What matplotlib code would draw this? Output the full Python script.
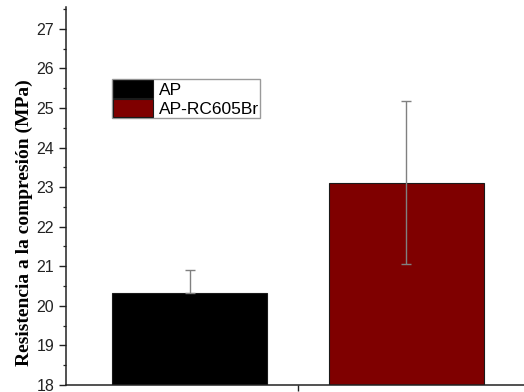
import matplotlib
matplotlib.use("Agg")
import matplotlib.pyplot as plt
from matplotlib.ticker import MultipleLocator, NullFormatter

# Compressive strength data
labels = ["AP", "AP-RC605Br"]
strength = [20.33, 23.11]
err_low = [0.0, 2.05]
err_high = [0.57, 2.07]
colors = ["#000000", "#7f0000"]
yticks = [18, 19, 20, 21, 22, 23, 24, 25, 26, 27]

fig = plt.figure(figsize=(5.24, 3.92), dpi=100)
ax = fig.add_axes([66 / 524, 7 / 392, (530 - 66) / 524, (385 - 7) / 392])

positions = list(range(len(labels)))
for pos, val, lo, hi, col, lab in zip(positions, strength, err_low, err_high, colors, labels):
    ax.bar(pos, val - 18, bottom=18, width=0.716, color=col, edgecolor="#1a1a1a",
           linewidth=0.8, label=lab, zorder=2)
    ax.errorbar(pos, val, yerr=[[lo], [hi]], fmt="none", ecolor="#808080",
                elinewidth=1.0, capsize=3.5, capthick=1.0, zorder=3)

ax.set_xlim(-0.57, 1.57)
ax.set_ylim(18, 27.55)
ax.set_yticks(yticks)
ax.yaxis.set_minor_locator(MultipleLocator(0.5))
ax.set_xticks([0.5])
ax.xaxis.set_major_formatter(NullFormatter())

for side in ("top", "right"):
    ax.spines[side].set_visible(False)
for side in ("left", "bottom"):
    ax.spines[side].set_linewidth(1.1)
    ax.spines[side].set_color("#222222")

ax.tick_params(axis="y", which="major", direction="out", length=5, width=1.0,
               labelsize=11.5, color="#222222", pad=3.5)
ax.tick_params(axis="y", which="minor", direction="out", length=2.2, width=0.9,
               color="#222222")
ax.tick_params(axis="x", which="major", direction="out", length=4, width=1.0,
               color="#222222")
for t in ax.get_yticklabels():
    t.set_family("Liberation Sans")
    t.set_color("#222222")

ax.set_ylabel("Resistencia a la compresión (MPa)", family="Liberation Serif",
              fontweight="bold", fontsize=14)
ax.yaxis.set_label_coords(-33 / 464, (385 - 223) / 378)

leg = ax.legend(loc="upper left", bbox_to_anchor=(112 / 524, 1 - 79 / 392),
                bbox_transform=fig.transFigure, prop={"family": "Liberation Sans", "size": 12.5},
                frameon=True, fancybox=False, framealpha=1, edgecolor="#9a9a9a",
                handlelength=2.3, handleheight=1.15, labelspacing=0.08,
                borderpad=0.08, handletextpad=0.3, borderaxespad=0)
leg.get_frame().set_linewidth(1.0)

fig.savefig("out.png", dpi=100)
